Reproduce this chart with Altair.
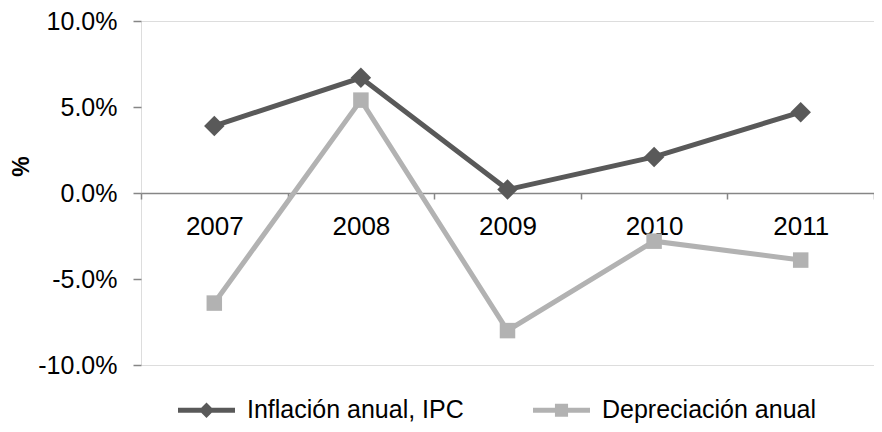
import altair as alt
import pandas as pd

years = ["2007", "2008", "2009", "2010", "2011"]
inflacion = [3.9, 6.7, 0.2, 2.1, 4.7]
depreciacion = [-6.4, 5.4, -8.0, -2.8, -3.9]
series = ["Inflación anual, IPC", "Depreciación anual"]
colors = ["#595959", "#b2b2b2"]
y_ticks = [-10, -5, 0, 5, 10]

legend_paths = [
    "M-1,-0.09L1,-0.09L1,0.09L-1,0.09Z M0,-0.27L0.27,0L0,0.27L-0.27,0Z",
    "M-1,-0.09L1,-0.09L1,0.09L-1,0.09Z M-0.23,-0.23L0.23,-0.23L0.23,0.23L-0.23,0.23Z",
]

rows = []
for s, vals in zip(series, [inflacion, depreciacion]):
    for i, (yr, v) in enumerate(zip(years, vals)):
        rows.append({"year": yr, "value": v, "serie": s, "order": i})
df = pd.DataFrame(rows)

FONT = "Arial, Liberation Sans, sans-serif"
PLOT_TOP = 21          # page px
PLOT_H = 344
PLOT_W = 733
LEG_Y = 410            # page px, centre of legend row

x_enc = alt.X(
    "year:O",
    scale=alt.Scale(type="band", domain=years, paddingInner=0, paddingOuter=0),
    axis=alt.Axis(
        title=None, orient="bottom", offset=-PLOT_H / 2, labelAngle=0,
        labelFontSize=26, labelFont=FONT, labelColor="black",
        labelPadding=14, labelBaseline="top",
        tickSize=6, tickColor="#868686", tickWidth=1.5, tickBand="extent",
        domainColor="#868686", domainWidth=1.5, grid=False,
    ),
)
y_enc = alt.Y(
    "value:Q",
    scale=alt.Scale(domain=[-10, 10], nice=False, zero=False),
    axis=alt.Axis(
        values=y_ticks,
        labelExpr="replace(format(datum.value, '.1f'), '\u2212', '-') + '%'",
        labelFontSize=25, labelFont=FONT, labelColor="black",
        labelPadding=16, labelFlush=False, labelOverlap=False,
        tickSize=8, tickColor="#868686", tickWidth=1.5,
        domain=False, grid=False,
        title="%", titleFont=FONT, titleFontSize=23, titleFontWeight="bold",
        titleColor="black", titleAngle=270, titleX=-120, titleY=166 - PLOT_TOP,
        titleAlign="center", titleBaseline="middle",
    ),
)

color_scale = alt.Scale(domain=series, range=colors)
base = alt.Chart(df)

lines = base.mark_line(strokeWidth=5).encode(
    x=x_enc, y=y_enc,
    color=alt.Color("serie:N", scale=color_scale, legend=None),
    order="order:Q",
)
pts_inf = base.transform_filter(alt.datum.serie == series[0]).mark_point(
    filled=True, opacity=1, shape="diamond", size=420
).encode(x=x_enc, y=y_enc, color=alt.Color("serie:N", scale=color_scale, legend=None))
pts_dep = base.transform_filter(alt.datum.serie == series[1]).mark_point(
    filled=True, opacity=1, shape="square", size=240
).encode(x=x_enc, y=y_enc, color=alt.Color("serie:N", scale=color_scale, legend=None))

leg_common = dict(
    orient="none", legendX=37, legendY=LEG_Y - PLOT_TOP - 28.5, direction="horizontal",
    title=None, labelFontSize=25, labelFont=FONT, labelColor="black", labelLimit=0,
    symbolSize=3249, symbolStrokeWidth=0, symbolOpacity=1, labelOffset=12,
    columnPadding=69, padding=0,
)
legend_layer = base.transform_filter("false").mark_point(filled=True, opacity=1).encode(
    x=x_enc, y=y_enc,
    color=alt.Color("serie:N", scale=alt.Scale(domain=series, range=colors),
                    legend=alt.Legend(**leg_common)),
    shape=alt.Shape("serie:N", scale=alt.Scale(domain=series, range=legend_paths),
                    legend=alt.Legend(**leg_common)),
)

chart = (
    alt.layer(lines, pts_inf, pts_dep, legend_layer)
    .resolve_scale(color="independent", shape="independent")
    .properties(
        width=PLOT_W, height=PLOT_H,
        padding={"left": 133, "top": PLOT_TOP - 8, "right": 0,
                 "bottom": 416 - (PLOT_TOP - 8) - PLOT_H},
        autosize=alt.AutoSizeParams(type="none"),
    )
    .configure_view(stroke="#8c8c8c", strokeWidth=1.5)
    .configure(background="white")
)

chart.save("out.html", embed_options={"renderer": "svg", "actions": False})
